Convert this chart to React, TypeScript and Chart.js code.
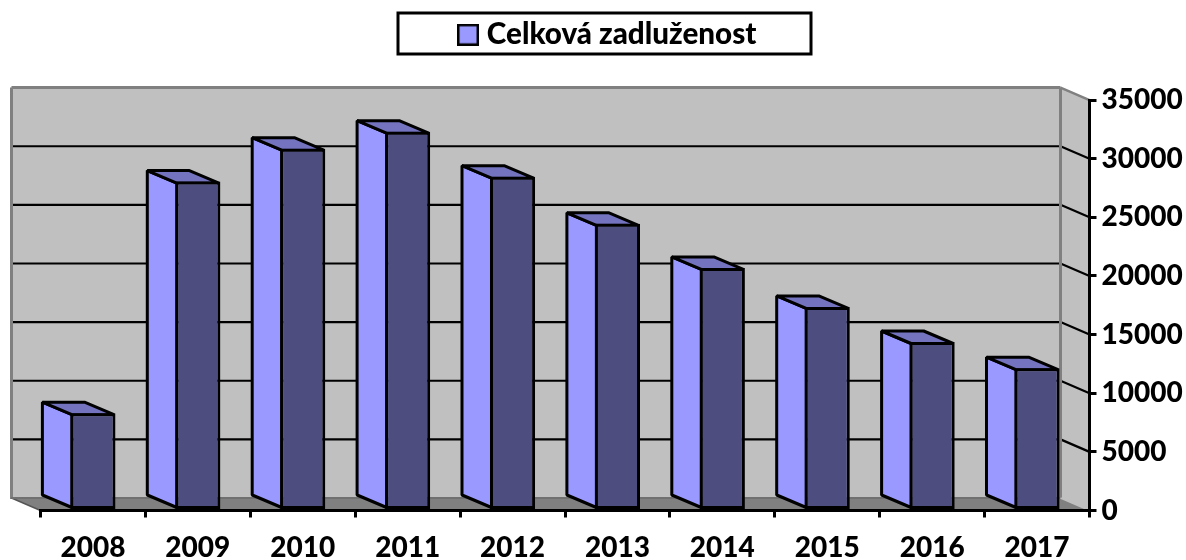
import React, { useEffect, useRef } from "react";
import { Chart, registerables } from "chart.js";

Chart.register(...registerables);

const categories = ["2008", "2009", "2010", "2011", "2012", "2013", "2014", "2015", "2016", "2017"];
const seriesName = "Celková zadluženost";
const seriesValues = [8300, 28050, 30860, 32310, 28470, 24450, 20690, 17360, 14370, 12140];

const FONT = "Lato";
const WEIGHT = "900";
const SIDE = "#9999FF";
const FRONT = "#4D4D80";
const TOP = "#7373BF";
const WALL = "#C0C0C0";
const EDGE = "#808080";
const INK = "#000000";
const LW = 3;
const DEPTH_X = 29;
const DEPTH_Y = 12.5;

function poly(ctx: CanvasRenderingContext2D, pts: number[][], fill?: string, stroke?: string, lw = LW) {
  ctx.beginPath();
  pts.forEach((p, i) => (i ? ctx.lineTo(p[0], p[1]) : ctx.moveTo(p[0], p[1])));
  ctx.closePath();
  if (fill) {
    ctx.fillStyle = fill;
    ctx.fill();
  }
  if (stroke) {
    ctx.strokeStyle = stroke;
    ctx.lineWidth = lw;
    ctx.lineJoin = "bevel";
    ctx.stroke();
  }
}

function segment(ctx: CanvasRenderingContext2D, x1: number, y1: number, x2: number, y2: number, color: string, lw: number) {
  ctx.beginPath();
  ctx.moveTo(x1, y1);
  ctx.lineTo(x2, y2);
  ctx.strokeStyle = color;
  ctx.lineWidth = lw;
  ctx.stroke();
}

const scenePlugin = {
  id: "scene3d",
  afterLayout(chart: any) {
    const lg = chart.legend;
    lg.top = -10;
    lg.left -= 3;
    lg.right -= 3;
  },
  beforeDraw(chart: any) {
    const { ctx, chartArea: a, scales } = chart;
    const y = scales.y;
    ctx.save();
    // legend frame
    ctx.fillStyle = "#FFFFFF";
    ctx.fillRect(398, 13, 413, 41);
    ctx.strokeStyle = INK;
    ctx.lineWidth = LW;
    ctx.strokeRect(398, 13, 413, 41);
    // walls
    const bl = a.left - DEPTH_X;
    const br = a.right - DEPTH_X;
    const wt = a.top - DEPTH_Y;
    const wb = a.bottom - DEPTH_Y;
    poly(ctx, [[bl, wt], [br, wt], [br, wb], [bl, wb]], WALL);
    poly(ctx, [[br, wt], [a.right, a.top], [a.right, a.bottom], [br, wb]], WALL);
    poly(ctx, [[bl, wb], [br, wb], [a.right, a.bottom], [a.left, a.bottom]], EDGE);
    // gridlines on back and side wall
    y.ticks.forEach((t: any) => {
      const py = y.getPixelForValue(t.value);
      if (t.value === 0 || t.value === y.max) return;
      segment(ctx, bl, py - DEPTH_Y, br, py - DEPTH_Y, INK, 2.2);
      segment(ctx, br, py - DEPTH_Y, a.right, py, INK, 2.2);
    });
    // grey wall edges
    segment(ctx, bl, wb + 1, bl, wt, EDGE, 3);
    segment(ctx, bl, wt, br, wt, EDGE, 3);
    segment(ctx, br, wt, br, wb, EDGE, 3);
    segment(ctx, br, wt, a.right, a.top, EDGE, 2.5);
    segment(ctx, bl, wb, a.left, a.bottom, "#555555", 1.5);
    segment(ctx, bl, wb, br, wb, "#707070", 2);
    segment(ctx, br, wb, a.right, a.bottom, WALL, 1.5);
    ctx.restore();
  },
  beforeDatasetsDraw(chart: any) {
    const { ctx } = chart;
    const dx = 29.5;
    ctx.save();
    chart.getDatasetMeta(0).data.forEach((bar: any) => {
      const p = bar.getProps(["x", "y", "base", "width"], true);
      const l = p.x - p.width / 2 + LW / 2;
      const r = p.x + p.width / 2 - LW / 2;
      const t = p.y + LW / 2;
      const b = p.base - LW / 2;
      poly(ctx, [[l, t], [l - dx, t - DEPTH_Y], [l - dx, b - DEPTH_Y], [l, b]], SIDE, INK);
      poly(ctx, [[l, t], [l - dx, t - DEPTH_Y], [r - dx, t - DEPTH_Y], [r, t]], TOP, INK);
    });
    ctx.restore();
  },
};

export default function App() {
  const ref = useRef<HTMLCanvasElement | null>(null);
  useEffect(() => {
    if (!ref.current) return;
    const swatch = document.createElement("canvas");
    swatch.width = 22;
    swatch.height = 22;
    const s = swatch.getContext("2d")!;
    s.fillStyle = SIDE;
    s.fillRect(1, 1, 20, 20);
    s.strokeStyle = INK;
    s.lineWidth = 2.5;
    s.strokeRect(1.25, 1.25, 19.5, 19.5);

    const chart = new Chart(ref.current, {
      type: "bar",
      data: {
        labels: categories,
        datasets: [
          {
            label: seriesName,
            data: seriesValues,
            backgroundColor: FRONT,
            borderColor: INK,
            borderWidth: LW,
            borderSkipped: false,
            barPercentage: 0.43,
            categoryPercentage: 1,
          },
        ],
      },
      options: {
        responsive: false,
        animation: false,
        layout: { padding: { left: 40.5, right: 0, top: 30.5, bottom: 0 } },
        plugins: {
          tooltip: { enabled: false },
          legend: {
            position: "top",
            padding: 0,
            labels: {
              usePointStyle: true,
              boxWidth: 8,
              padding: 30,
              color: INK,
              font: { family: FONT, size: 29.6, weight: WEIGHT },
              generateLabels: () => [
                { text: seriesName, pointStyle: swatch, fillStyle: SIDE, strokeStyle: INK, lineWidth: LW, hidden: false, datasetIndex: 0 },
              ],
            },
          },
        },
        scales: {
          x: {
            offset: true,
            afterFit: (scale: any) => {
              scale.height = 49.5;
            },
            grid: { offset: true, drawOnChartArea: false, color: INK, lineWidth: LW, tickLength: 7 },
            border: { color: INK, width: LW },
            ticks: {
              color: INK,
              padding: 14,
              autoSkip: false,
              maxRotation: 0,
              font: { family: FONT, size: 28, weight: WEIGHT },
            },
          },
          y: {
            position: "right",
            min: 0,
            max: 35000,
            afterFit: (scale: any) => {
              scale.width = 96.5;
            },
            grid: { drawOnChartArea: false, color: INK, lineWidth: LW, tickLength: 7 },
            border: { color: INK, width: LW },
            ticks: {
              stepSize: 5000,
              color: INK,
              padding: 5,
              font: { family: FONT, size: 28, weight: WEIGHT },
              callback: (v: any) => String(v),
            },
          },
        },
      } as any,
      plugins: [scenePlugin],
    });
    return () => chart.destroy();
  }, []);
  return (
    <div style={{ position: "absolute", left: 0, top: 0, width: 1186, height: 560 }}>
      <canvas ref={ref} width={1186} height={560} />
    </div>
  );
}
